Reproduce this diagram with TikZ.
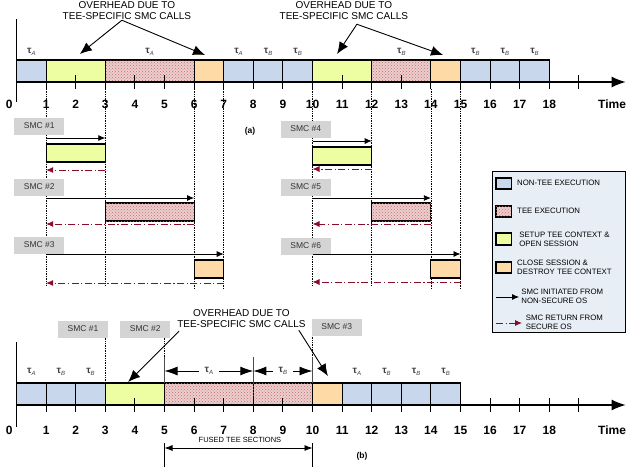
\documentclass[tikz,border=0pt]{standalone}
\usepackage{fontspec}
\setmainfont{Liberation Sans}
\usetikzlibrary{arrows.meta, patterns}

\definecolor{ntblue}{RGB}{200,215,236}
\definecolor{setupgreen}{RGB}{236,253,162}
\definecolor{teepink}{RGB}{236,206,206}
\definecolor{teedot}{RGB}{196,110,110}
\definecolor{closeorange}{RGB}{253,218,166}
\definecolor{legbg}{RGB}{232,238,246}
\definecolor{smcgray}{RGB}{212,212,212}
\definecolor{retred}{RGB}{139,12,42}

% tau with a small italic index
\newcommand{\tauidx}[1]{{\bfseries τ}\raisebox{-1.5pt}{\fontsize{6}{6}\selectfont\itshape #1}}

\tikzset{
  seg/.style={draw=black, line width=1.1pt},
  ntseg/.style={seg, fill=ntblue},
  setupseg/.style={seg, fill=setupgreen},
  teeseg/.style={seg, fill=teepink, postaction={pattern=crosshatch dots, pattern color=teedot}},
  closeseg/.style={seg, fill=closeorange},
  axisline/.style={line width=1.3pt, -{Latex[length=14pt,width=11pt]}},
  vaxis/.style={line width=1.6pt},
  tickmark/.style={line width=1.1pt},
  ticklab/.style={font=\fontsize{12}{12}\selectfont\bfseries, inner sep=0pt},
  taulab/.style={font=\fontsize{10}{10}\selectfont, text=black!75, inner sep=0pt},
  ovhtext/.style={font=\fontsize{10}{11}\selectfont, align=center, inner sep=0pt},
  ovharrow/.style={line width=0.9pt, -{Latex[length=12pt,width=10pt]}},
  guide/.style={densely dotted, line width=0.7pt},
  smclabel/.style={fill=smcgray, minimum width=50pt, minimum height=17pt, inner sep=0pt, font=\fontsize{8.5}{8.5}\selectfont, text=black!80},
  callarrow/.style={line width=0.8pt, -{Latex[length=7pt,width=6pt]}},
  retarrow/.style={draw=retred, line width=0.9pt, dash pattern=on 7pt off 2.5pt on 1.2pt off 2.5pt, -{Latex[length=7pt,width=6pt]}},
  legtext/.style={anchor=west, align=left, inner sep=0pt, font=\fontsize{7.8}{9}\selectfont},
  dimarrow/.style={line width=0.9pt, {Latex[length=13pt,width=9pt]}-{Latex[length=13pt,width=9pt]}},
  fusedarrow/.style={line width=0.8pt, {Latex[length=8pt,width=6pt]}-{Latex[length=8pt,width=6pt]}},
  capt/.style={font=\fontsize{8.5}{8.5}\selectfont\bfseries, inner sep=0pt}
}

\begin{document}
\begin{tikzpicture}[x=29.6pt, y=-1pt]
  \useasboundingbox (-0.5574,0) rectangle (20.625,469);

  % ---- (a) timeline ----
  \foreach \t/\e in {1/285,3/285,6/288,7/288,10/285,12/285,14/288,15/288}
    \draw[guide] (\t,89) -- (\t,\e);
  \foreach \a/\b/\s in {0/1/ntseg,1/3/setupseg,3/6/teeseg,6/7/closeseg,7/8/ntseg,8/9/ntseg,9/10/ntseg,10/12/setupseg,12/14/teeseg,14/15/closeseg,15/16/ntseg,16/17/ntseg,17/18/ntseg}
    \draw[\s] (\a,60) rectangle (\b,82);
  \draw[axisline] (0,82) -- (20.58,82);
  \draw[vaxis] (0,19) -- (0,102);
  \foreach \i in {1,...,19}
    \draw[tickmark] (\i,75) -- (\i,89);
  \node[ticklab] (ta0) at (-0.25,104) {0};
  \foreach \i in {1,...,18}
    \node[ticklab] (ta\i) at (\i,104) {\i};
  \node[ticklab] (timeA) at (20.12,104) {Time};

  \foreach \x/\s [count=\k] in {0.5/A,4.5/A,7.5/A,8.5/B,9.5/B,13/B,15.5/B,16.5/B,17.5/B}
    \node[taulab] (tauA\k) at (\x,52) {\tauidx{\s}};

  \node[ovhtext] (ovhA) at (3.73,11) {OVERHEAD DUE TO\\TEE-SPECIFIC SMC CALLS};
  \coordinate (ovhA1) at (2.14,54);
  \coordinate (ovhA2) at (6.37,55);
  \draw[ovharrow] ([xshift=-5pt]ovhA.south) -- (ovhA1);
  \draw[ovharrow] ([xshift=-5pt]ovhA.south) -- (ovhA2);

  \node[ovhtext] (ovhB) at (11.06,11) {OVERHEAD DUE TO\\TEE-SPECIFIC SMC CALLS};
  \coordinate (ovhB1) at (10.83,54);
  \coordinate (ovhB2) at (14.41,55);
  \draw[ovharrow] ([xshift=13pt,yshift=-4pt]ovhB.south) -- (ovhB1);
  \draw[ovharrow] ([xshift=13pt,yshift=-4pt]ovhB.south) -- (ovhB2);

  \node[capt] (capA) at (7.89,131) {(a)};

  % SMC calls of (a)
  \foreach \n/\s/\bs/\be/\st/\yl/\ya/\yb/\yr in {1/1/1/3/setupseg/126/138/144/170, 2/1/3/6/teeseg/187/198/203/224, 3/1/6/7/closeseg/245/254/260/283, 4/10/10/12/setupseg/129/141/147/169, 5/10/12/14/teeseg/187/198/203/224, 6/10/14/15/closeseg/246/254/260/282}{
    \node[smclabel, anchor=west] (smc\n) at (\s-1.08,\yl) {SMC \#\n};
    \draw[callarrow] (\s,\ya) -- (\be,\ya);
    \draw[\st] (\bs,\yb) rectangle (\be,\yb+18);
    \draw[retarrow] (\be,\yr) -- (\s,\yr);
  }

  % ---- legend ----
  \draw[fill=legbg, line width=0.8pt] (16.064,171) rectangle (20.557,332);
  \draw[ntseg] (16.2,178) rectangle (16.71,189);
  \node[legtext] (lg1) at (16.91,183) {NON-TEE EXECUTION};
  \draw[teeseg] (16.2,206) rectangle (16.71,217);
  \node[legtext] (lg2) at (16.91,211) {TEE EXECUTION};
  \draw[setupseg] (16.2,233) rectangle (16.71,245);
  \node[legtext] (lg3) at (16.98,239) {SETUP TEE CONTEXT \&\\OPEN SESSION};
  \draw[closeseg] (16.2,262) rectangle (16.71,273);
  \node[legtext] (lg4) at (16.91,267) {CLOSE SESSION \&\\DESTROY TEE CONTEXT};
  \draw[callarrow] (16.2,297) -- (16.98,297);
  \node[legtext] (lg5) at (17.05,296) {SMC INITIATED FROM\\NON-SECURE OS};
  \draw[retarrow] (16.2,323) -- (17.08,323);
  \node[legtext] (lg6) at (17.2,322) {SMC RETURN FROM\\SECURE OS};

  % ---- (b) timeline ----
  \draw[guide] (3,336) -- (3,383);
  \draw[guide] (5,336) -- (5,357);
  \draw[guide] (10,335) -- (10,383);
  \node[smclabel] (smcb1) at (2.25,329) {SMC \#1};
  \node[smclabel] (smcb2) at (4.35,329) {SMC \#2};
  \node[smclabel] (smcb3) at (10.82,327) {SMC \#3};

  \foreach \a/\b/\s in {0/1/ntseg,1/2/ntseg,2/3/ntseg,3/5/setupseg,5/8/teeseg,8/10/teeseg,10/11/closeseg,11/12/ntseg,12/13/ntseg,13/14/ntseg,14/15/ntseg}
    \draw[\s] (\a,383) rectangle (\b,405);
  \draw[axisline] (0,405) -- (20.58,405);
  \draw[vaxis] (0,342) -- (0,427);
  \foreach \i in {1,...,19}
    \draw[tickmark] (\i,398) -- (\i,412);
  \node[ticklab] (tb0) at (-0.25,430) {0};
  \foreach \i in {1,...,18}
    \node[ticklab] (tb\i) at (\i,430) {\i};
  \node[ticklab] (timeB) at (20.12,430) {Time};

  \foreach \x/\s [count=\k] in {0.5/A,1.5/B,2.5/B,11.5/A,12.5/B,13.5/B,14.5/B}
    \node[taulab] (tauB\k) at (\x,372) {\tauidx{\s}};

  \foreach \t in {5,8,10}
    \draw[line width=0.9pt, black!70] (\t,357) -- (\t,383);
  \coordinate (dA0) at (5,371);
  \coordinate (dA1) at (8,371);
  \coordinate (dB1) at (10,371);
  \draw[dimarrow] (dA0) -- node[taulab, fill=white, inner xsep=6pt, inner ysep=2pt] (dimA) {\tauidx{A}} (dA1);
  \draw[dimarrow] (dA1) -- node[taulab, fill=white, inner xsep=6pt, inner ysep=2pt] (dimB) {\tauidx{B}} (dB1);

  \node[ovhtext] (ovhC) at (7.6,319) {OVERHEAD DUE TO\\TEE-SPECIFIC SMC CALLS};
  \coordinate (ovhC1) at (3.77,382);
  \coordinate (ovhC2) at (10.52,376);
  \draw[ovharrow] ([xshift=2pt,yshift=-3pt]ovhC.south west) -- (ovhC1);
  \draw[ovharrow] ([xshift=-7pt,yshift=-2pt]ovhC.south east) -- (ovhC2);

  \node[font=\fontsize{7.5}{7.5}\selectfont, inner sep=0pt] (fused) at (7.55,440) {FUSED TEE SECTIONS};
  \draw[line width=0.8pt] (5,443) -- (5,467);
  \draw[line width=0.8pt] (10,443) -- (10,467);
  \coordinate (fu0) at (5,448);
  \coordinate (fu1) at (10,448);
  \draw[fusedarrow] (fu0) -- (fu1);

  \node[capt] (capB) at (11.67,456) {(b)};
\end{tikzpicture}
\end{document}
